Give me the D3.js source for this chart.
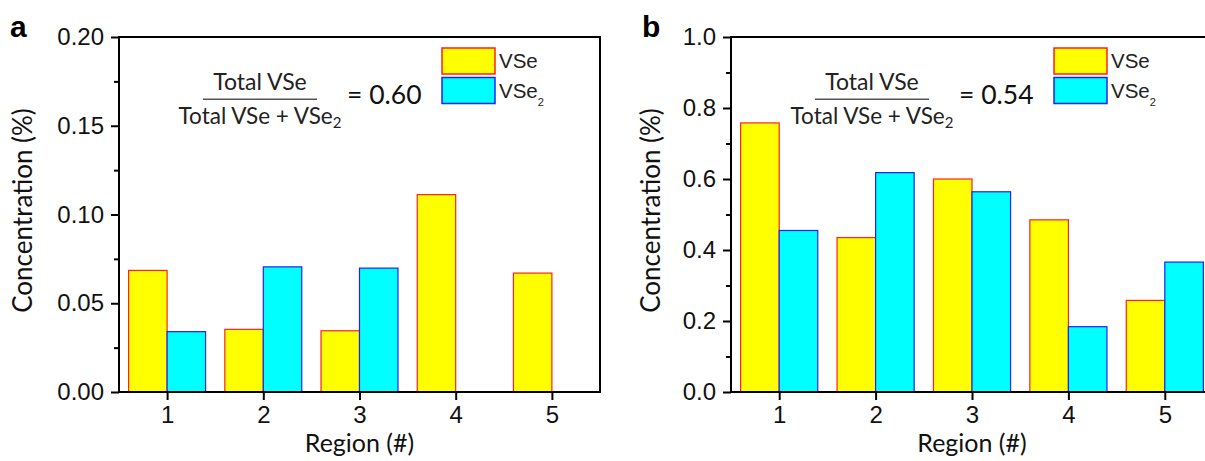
<!DOCTYPE html>
<html>
<head>
<meta charset="utf-8">
<script src="https://cdn.jsdelivr.net/npm/d3@7"></script>
<style>
  html, body { margin: 0; padding: 0; background: #fff; }
  svg { display: block; }
</style>
</head>
<body>
<svg id="chart" width="1205" height="461"></svg>
<script>
// Region indices shared by both panels
const regions = [1, 2, 3, 4, 5];
const seriesNames = ["VSe", "VSe2"];

// Panel a: concentrations (%)
const vseA  = [0.0685, 0.0353, 0.0345, 0.1112, 0.0670];
const vse2A = [0.0340, 0.0705, 0.0698, 0.0, 0.0];
const yTicksA = [0, 0.05, 0.10, 0.15, 0.20];
const yMinorA = [0.025, 0.075, 0.125, 0.175];
const ratioA = "0.60";

// Panel b: concentrations (%)
const vseB  = [0.758, 0.435, 0.600, 0.485, 0.258];
const vse2B = [0.455, 0.618, 0.564, 0.184, 0.366];
const yTicksB = [0, 0.2, 0.4, 0.6, 0.8, 1.0];
const yMinorB = [0.1, 0.3, 0.5, 0.7, 0.9];
const ratioB = "0.54";

const svg = d3.select("#chart");

const tickFont = "'Liberation Sans', Arial, sans-serif";
const textFont = "Lato, 'Open Sans', sans-serif";

const fills   = { VSe: "#ffff00", VSe2: "#00ffff" };
const strokes = { VSe: "#ff2020", VSe2: "#2020ff" };

function drawPanel(opts) {
  const left = opts.left, top = 37, bottom = 392, width = opts.width;
  const g = svg.append("g");

  const x = d3.scaleLinear().domain([0.5, 5.5]).range([left, left + width]);
  const y = d3.scaleLinear().domain([0, opts.yMax]).range([bottom, top]);
  const barW = x(1.4) - x(1);

  // bars: VSe to the left of each region tick, VSe2 to the right
  const rows = regions.map((r, i) => ({ r, vse: opts.vse[i], vse2: opts.vse2[i] }));
  g.selectAll("rect.vse").data(rows).join("rect")
    .attr("class", "vse")
    .attr("x", d => x(d.r) - barW)
    .attr("y", d => y(d.vse))
    .attr("width", barW)
    .attr("height", d => y(0) - y(d.vse))
    .attr("fill", fills.VSe).attr("stroke", strokes.VSe).attr("stroke-width", 1.2);
  g.selectAll("rect.vse2").data(rows).join("rect")
    .attr("class", "vse2")
    .attr("x", d => x(d.r))
    .attr("y", d => y(d.vse2))
    .attr("width", barW)
    .attr("height", d => y(0) - y(d.vse2))
    .attr("fill", fills.VSe2).attr("stroke", strokes.VSe2).attr("stroke-width", 1.2);

  // frame
  g.append("rect")
    .attr("x", left).attr("y", top)
    .attr("width", width).attr("height", bottom - top)
    .attr("fill", "none").attr("stroke", "#000").attr("stroke-width", 2);

  // y axis, major + minor ticks
  const yAxis = g.append("g").attr("transform", `translate(${left},0)`)
    .call(d3.axisLeft(y).tickValues(opts.yTicks).tickFormat(d3.format(opts.fmt))
      .tickSize(8).tickSizeOuter(0).tickPadding(7));
  yAxis.select(".domain").remove();
  yAxis.selectAll("line").attr("stroke-width", 2);
  yAxis.selectAll("text").attr("font-family", tickFont).attr("font-size", 24).attr("fill", "#111");

  const yMinor = g.append("g").attr("transform", `translate(${left},0)`)
    .call(d3.axisLeft(y).tickValues(opts.yMinor).tickFormat("").tickSize(5).tickSizeOuter(0));
  yMinor.select(".domain").remove();
  yMinor.selectAll("line").attr("stroke-width", 2);

  // x axis
  const xAxis = g.append("g").attr("transform", `translate(0,${bottom})`)
    .call(d3.axisBottom(x).tickValues(regions).tickFormat(d3.format("d"))
      .tickSize(8).tickSizeOuter(0).tickPadding(6));
  xAxis.select(".domain").remove();
  xAxis.selectAll("line").attr("stroke-width", 2);
  xAxis.selectAll("text").attr("font-family", tickFont).attr("font-size", 24).attr("fill", "#111");

  // axis titles
  g.append("text")
    .attr("x", x(3)).attr("y", 452)
    .attr("text-anchor", "middle")
    .attr("font-family", textFont).attr("font-size", 25).attr("fill", "#111")
    .text("Region (#)");
  g.append("text")
    .attr("transform", `translate(${opts.titleX},${(top + bottom) / 2 - 4}) rotate(-90)`)
    .attr("text-anchor", "middle")
    .attr("font-family", textFont).attr("font-size", 26).attr("fill", "#111")
    .text("Concentration (%)");

  // panel letter
  g.append("text")
    .attr("x", opts.letterX).attr("y", 37)
    .attr("font-family", tickFont).attr("font-weight", "bold").attr("font-size", 30)
    .attr("fill", "#000")
    .text(opts.letter);

  // ratio formula
  const fx = left + 141;
  g.append("text")
    .attr("x", fx).attr("y", 89.5).attr("text-anchor", "middle")
    .attr("font-family", textFont).attr("font-size", 23).attr("fill", "#222")
    .text("Total VSe");
  g.append("line")
    .attr("x1", left + 84).attr("x2", left + 198)
    .attr("y1", 99.3).attr("y2", 99.3)
    .attr("stroke", "#555").attr("stroke-width", 1.5);
  const den = g.append("text")
    .attr("x", fx).attr("y", 124.3).attr("text-anchor", "middle")
    .attr("font-family", textFont).attr("font-size", 22.5).attr("fill", "#222");
  den.append("tspan").text("Total VSe + VSe");
  den.append("tspan").attr("font-size", 15).attr("dy", 4).text("2");
  g.append("text")
    .attr("x", left + 228).attr("y", 104)
    .attr("font-family", textFont).attr("font-size", 26.5).attr("fill", "#111")
    .text("= " + opts.ratio);

  // legend
  const lx = left + 323;
  seriesNames.forEach((name, i) => {
    const ly = 48 + i * 29.5;
    g.append("rect")
      .attr("x", lx).attr("y", ly).attr("width", 53).attr("height", 26)
      .attr("fill", fills[name]).attr("stroke", strokes[name]).attr("stroke-width", 1.5);
    const t = g.append("text")
      .attr("x", lx + 57).attr("y", ly + 20)
      .attr("font-family", tickFont).attr("font-size", 20.5).attr("fill", "#222");
    if (name === "VSe2") {
      t.append("tspan").text("VSe");
      t.append("tspan").attr("font-size", 11).attr("dy", 8).text("2");
    } else {
      t.text(name);
    }
  });
}

drawPanel({ left: 119, width: 481, yMax: 0.20, vse: vseA, vse2: vse2A, yTicks: yTicksA, yMinor: yMinorA,
            fmt: ".2f", ratio: ratioA, letter: "a", letterX: 10, titleX: 32 });
drawPanel({ left: 731, width: 482, yMax: 1.0, vse: vseB, vse2: vse2B, yTicks: yTicksB, yMinor: yMinorB,
            fmt: ".1f", ratio: ratioB, letter: "b", letterX: 642, titleX: 660 });
</script>
</body>
</html>
